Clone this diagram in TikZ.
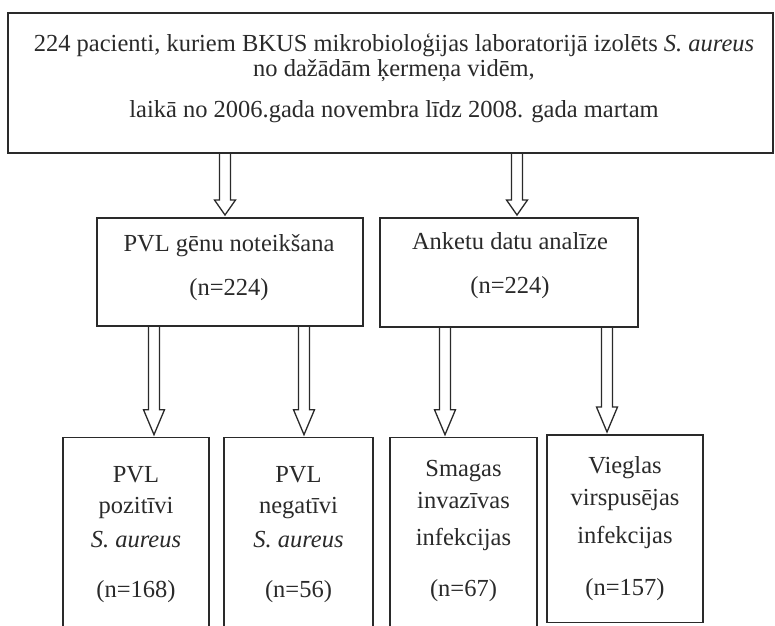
\documentclass[tikz,border=0pt]{standalone}
\usepackage{fontspec}
\setmainfont{Liberation Serif}
\usetikzlibrary{calc}
\definecolor{ink}{HTML}{2A2A2A}
\tikzset{
  boxnode/.style={draw=ink, line width=1.4pt, inner sep=0pt, outer sep=0pt, rectangle},
  txt/.style={text=ink, inner sep=0pt, anchor=base, font=\fontsize{24.5}{28}\selectfont},
  blk/.style={draw=ink, line width=1.3pt, line join=miter},
}
\newcommand{\blockarrow}[4]{% x, source node, target node, head length
  \draw[blk] let \p1=(#2.south), \p2=(#3.north) in
    (#1pt-5.5pt,\y1) -- (#1pt-5.5pt,\y2+#4pt+3pt) -- (#1pt-10.5pt,\y2+#4pt+3pt)
    -- (#1pt,\y2+3pt) -- (#1pt+10.5pt,\y2+#4pt+3pt) -- (#1pt+5.5pt,\y2+#4pt+3pt)
    -- (#1pt+5.5pt,\y1);
}
\begin{document}
\begin{tikzpicture}[x=1pt,y=1pt]
\clip (0,0) rectangle (775,625);
\fill[white] (0,0) rectangle (775,625);
% boxes
\node[boxnode, minimum width=765pt, minimum height=140pt] (top) at (390.5,542) {};
\node[boxnode, minimum width=266pt, minimum height=108pt] (pvl) at (230,353) {};
\node[boxnode, minimum width=258pt, minimum height=109pt] (ank) at (509,352.5) {};
\node[boxnode, minimum width=146pt, minimum height=190.3pt] (b1) at (136,92.15) {};
\node[boxnode, minimum width=149pt, minimum height=190.3pt] (b2) at (298.5,92.15) {};
\node[boxnode, minimum width=147pt, minimum height=190.3pt] (b3) at (463.5,92.15) {};
\node[boxnode, minimum width=156pt, minimum height=187.5pt] (b4) at (625,96.25) {};
% top text
\node[txt] (t1) at (394,573.5) {224 pacienti, kuriem BKUS mikrobioloģijas laboratorijā izolēts \textit{S. aureus}};
\node[txt] (t2) at (394,548.5) {no dažādām ķermeņa vidēm,};
\node[txt] (t3) at (394,507.5) {laikā no 2006.gada novembra līdz 2008. gada martam};
% middle text
\node[txt] (p1) at (229,374) {PVL gēnu noteikšana};
\node[txt] (p2) at (229,330) {(n=224)};
\node[txt] (a1) at (510,376) {Anketu datu analīze};
\node[txt] (a2) at (510,332) {(n=224)};
% bottom texts
\node[txt] (b1a) at (136,143) {PVL};
\node[txt] (b1b) at (136,112) {pozitīvi};
\node[txt] (b1c) at (136,78) {\textit{S. aureus}};
\node[txt] (b1d) at (136,28) {(n=168)};
\node[txt] (b2a) at (298.5,143) {PVL};
\node[txt] (b2b) at (298.5,112) {negatīvi};
\node[txt] (b2c) at (298.5,78) {\textit{S. aureus}};
\node[txt] (b2d) at (298.5,28) {(n=56)};
\node[txt] (b3a) at (463.5,149) {Smagas};
\node[txt] (b3b) at (463.5,117) {invazīvas};
\node[txt] (b3c) at (463.5,80) {infekcijas};
\node[txt] (b3d) at (463.5,29) {(n=67)};
\node[txt] (b4a) at (625,152) {Vieglas};
\node[txt] (b4b) at (625,120) {virspusējas};
\node[txt] (b4c) at (625,82) {infekcijas};
\node[txt] (b4d) at (625,30) {(n=157)};
% arrows
\blockarrow{225}{top}{pvl}{15}
\blockarrow{517}{top}{ank}{15}
\blockarrow{154}{pvl}{b1}{25}
\blockarrow{304}{pvl}{b2}{25}
\blockarrow{445}{ank}{b3}{25}
\blockarrow{607}{ank}{b4}{25}
\end{tikzpicture}
\end{document}
